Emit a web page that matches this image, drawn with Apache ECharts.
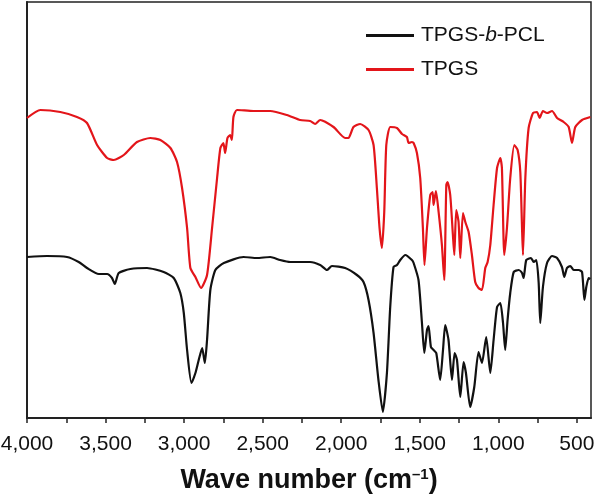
<!DOCTYPE html>
<html>
<head>
<meta charset="utf-8">
<script src="https://cdn.jsdelivr.net/npm/echarts@6/dist/echarts.min.js"></script>
<style>html,body{margin:0;padding:0;background:#fff}#c{width:594px;height:499px}</style>
</head>
<body>
<div id="c"></div>
<script>
// Wave numbers (cm-1) and transmittance (arbitrary units)
const tpgsWave = [4000,3915,3788,3682,3618,3554,3490,3448,3384,3300,3215,3151,3087,3045,3013,2981,2960,2928,2892,2854,2822,2790,2769,2750,2739,2724,2707,2696,2686,2664,2559,2452,2346,2261,2198,2166,2134,2049,1975,1954,1922,1879,1826,1794,1773,1756,1741,1726,1713,1688,1645,1613,1582,1571,1550,1539,1518,1497,1480,1470,1454,1433,1418,1412,1397,1380,1359,1344,1331,1323,1306,1289,1280,1268,1253,1242,1225,1210,1189,1168,1147,1126,1104,1083,1068,1051,1030,1008,987,977,962,945,924,898,877,860,849,843,828,807,779,754,737,716,690,658,626,584,552,531,510,467,414];
const tpgsValue = [300,308,306,301,295,273,260,258,263,276,280,278,270,256,230,190,150,141,130,143,190,240,270,275,265,280,283,278,301,308,307,307,303,298,297,294,298,291,280,280,291,294,288,273,230,190,170,206,273,291,290,284,281,275,276,275,265,240,190,153,190,223,226,213,227,206,173,138,233,236,223,183,163,208,196,160,205,196,186,163,136,130,128,150,156,173,213,250,260,250,163,190,240,273,268,246,190,163,240,290,305,306,300,307,305,307,300,296,291,275,291,298,301];

const copolymerWave = [4000,3873,3745,3671,3618,3543,3490,3459,3441,3416,3342,3236,3130,3066,3024,3002,2981,2953,2928,2907,2885,2868,2854,2833,2801,2747,2622,2537,2452,2389,2325,2198,2134,2091,2059,1975,1900,1858,1826,1794,1763,1735,1709,1688,1667,1645,1624,1592,1550,1539,1508,1486,1471,1454,1444,1429,1412,1395,1370,1352,1338,1317,1295,1278,1263,1242,1221,1206,1179,1153,1126,1104,1077,1051,1030,1008,987,970,956,941,924,902,870,849,839,822,792,775,758,743,733,716,690,658,626,595,580,563,542,520,488,467,452,440,425,414];
const copolymerValue = [161,162,161,156,150,144,144,140,134,145,149,150,146,140,125,105,68,35,45,58,70,55,78,128,148,155,161,160,161,158,156,156,153,148,152,150,143,136,118,85,38,6,45,111,151,153,158,163,158,155,138,95,65,88,92,71,68,65,38,68,93,78,38,65,58,21,56,45,11,31,66,55,81,45,78,111,115,95,68,98,125,146,148,145,140,158,160,156,158,135,95,131,155,162,160,151,141,150,152,148,148,146,118,131,140,139];

const seriesNames = ['TPGS-b-PCL', 'TPGS'];
const xLabelValues = [500,1000,1500,2000,2500,3000,3500,4000];
const xTickValues = [500,750,1000,1250,1500,1750,2000,2250,2500,2750,3000,3250,3500,3750,4000];

function zip(a, b) { return a.map((w, i) => [w, b[i]]); }

const FONT = 'Liberation Sans, Arial, sans-serif';
const chart = echarts.init(document.getElementById('c'), null, {renderer: 'canvas'});
chart.setOption({
  animation: false,
  backgroundColor: '#fff',
  grid: {left: 27, right: 3, top: 2, bottom: 81, containLabel: false, outerBoundsMode: 'none',
         show: true, borderColor: '#222', borderWidth: 1.5, backgroundColor: 'transparent'},
  legend: {
    orient: 'vertical', left: 361, top: 20, itemWidth: 48, itemHeight: 3, icon: 'rect', itemGap: 13,
    textStyle: {fontFamily: FONT, fontSize: 21, color: '#111', padding: [0, 0, 0, 2],
      rich: {n: {fontFamily: FONT, fontSize: 21, color: '#111'},
             i: {fontFamily: FONT, fontSize: 21, color: '#111', fontStyle: 'italic'}}},
    formatter: function (name) { return name === 'TPGS-b-PCL' ? '{n|TPGS-}{i|b}{n|-PCL}' : '{n|' + name + '}'; },
    data: seriesNames
  },
  xAxis: {
    type: 'value', inverse: true, min: 410, max: 4000,
    name: '{a|Wave number (cm}{s|–1}{a|)}', nameLocation: 'middle', nameGap: 49,
    nameTextStyle: {rich: {
      a: {fontFamily: FONT, fontSize: 27, fontWeight: 'bold', color: '#111'},
      s: {fontFamily: FONT, fontSize: 15, fontWeight: 'bold', color: '#111', verticalAlign: 'top', padding: [0, 0, 12, 0]}}},
    axisLine: {show: true, lineStyle: {color: '#222', width: 2}},
    axisTick: {show: true, length: 5, customValues: xTickValues, lineStyle: {color: '#222', width: 1.5}},
    axisLabel: {customValues: xLabelValues, margin: 16, fontFamily: FONT, fontSize: 21, color: '#111',
      formatter: function (v) { return Number(v).toLocaleString('en-US'); }},
    splitLine: {show: false}
  },
  yAxis: {
    type: 'value', min: 0, max: 416,
    axisLine: {show: true, lineStyle: {color: '#222', width: 2}},
    axisTick: {show: false}, axisLabel: {show: false}, splitLine: {show: false}
  },
  series: [
    {name: seriesNames[0], type: 'line', data: zip(copolymerWave, copolymerValue), showSymbol: false, smooth: 0.2,
     lineStyle: {color: '#111', width: 2.2}, itemStyle: {color: '#111'}},
    {name: seriesNames[1], type: 'line', data: zip(tpgsWave, tpgsValue), showSymbol: false, smooth: 0.2,
     lineStyle: {color: '#e3151a', width: 2.2}, itemStyle: {color: '#e3151a'}}
  ]
});
</script>
</body>
</html>
